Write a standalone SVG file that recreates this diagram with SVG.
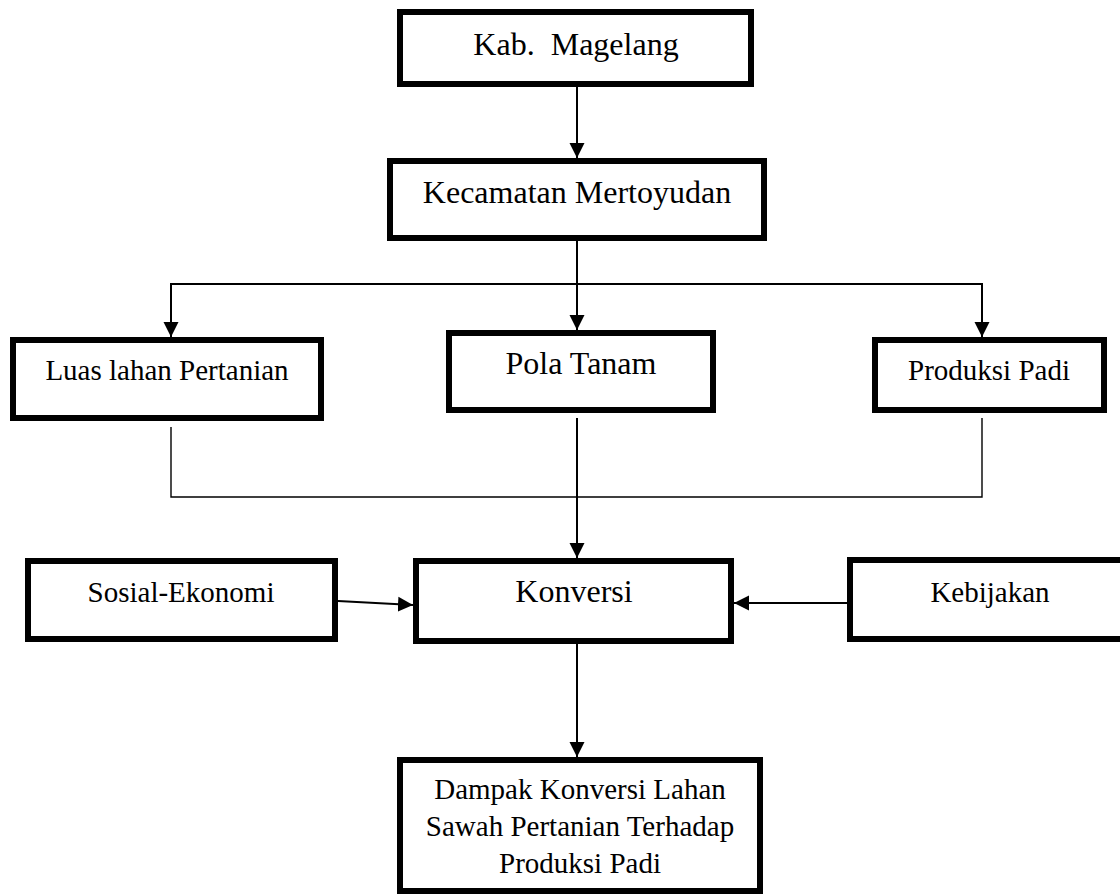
<svg xmlns="http://www.w3.org/2000/svg" width="1120" height="895" viewBox="0 0 1120 895">
<defs>
<style>
.box{fill:#fff;stroke:#000;stroke-width:6}
.t{font-family:"Liberation Serif","Times New Roman",serif;fill:#000;text-anchor:middle;white-space:pre}
.s29{font-size:29px}
.s32{font-size:32px}
.arr{stroke:#000;stroke-width:2;fill:none}
.thin{stroke:#000;stroke-width:1.4;fill:none}
</style>
<marker id="ah" markerUnits="userSpaceOnUse" markerWidth="16" markerHeight="16" refX="15" refY="8" orient="auto" viewBox="0 0 16 16">
<path d="M0,0.5 L15,8 L0,15.5 z" fill="#000"/>
</marker>
</defs>
<rect width="1120" height="895" fill="#fff"/>
<g id="connectors">
<line class="arr" x1="577" y1="87" x2="577" y2="158" marker-end="url(#ah)"/>
<line class="arr" x1="577" y1="241" x2="577" y2="330" marker-end="url(#ah)"/>
<polyline class="arr" points="171,337 171,284 982,284 982,337"/>
<line class="arr" x1="171" y1="284" x2="171" y2="337" marker-end="url(#ah)"/>
<line class="arr" x1="982" y1="284" x2="982" y2="337" marker-end="url(#ah)"/>
<polyline class="thin" points="171,427 171,497 982,497 982,418"/>
<line class="arr" x1="577" y1="418" x2="577" y2="558" marker-end="url(#ah)"/>
<line class="arr" x1="338" y1="601" x2="413" y2="605" marker-end="url(#ah)"/>
<line class="arr" x1="847" y1="603" x2="734" y2="603" marker-end="url(#ah)"/>
<line class="arr" x1="577" y1="644" x2="577" y2="757" marker-end="url(#ah)"/>
</g>
<g id="kab">
<rect class="box" x="400" y="12" width="351" height="72"/>
<text class="t s32" x="576" y="55" xml:space="preserve">Kab.  Magelang</text>
</g>
<g id="kecamatan">
<rect class="box" x="390" y="161" width="374" height="77"/>
<text class="t s32" x="577" y="203">Kecamatan Mertoyudan</text>
</g>
<g id="luas">
<rect class="box" x="13" y="340" width="308" height="78"/>
<text class="t s29" x="167" y="380">Luas lahan Pertanian</text>
</g>
<g id="pola">
<rect class="box" x="449" y="333" width="264" height="77"/>
<text class="t s32" x="581" y="374">Pola Tanam</text>
</g>
<g id="produksi">
<rect class="box" x="875" y="340" width="229" height="70"/>
<text class="t s29" x="989" y="380">Produksi Padi</text>
</g>
<g id="sosial">
<rect class="box" x="28" y="561" width="307" height="78"/>
<text class="t s29" x="181" y="602">Sosial-Ekonomi</text>
</g>
<g id="konversi">
<rect class="box" x="416" y="561" width="315" height="80"/>
<text class="t s32" x="574" y="602">Konversi</text>
</g>
<g id="kebijakan">
<rect class="box" x="850" y="560" width="282" height="79"/>
<text class="t s29" x="990" y="602">Kebijakan</text>
</g>
<g id="dampak">
<rect class="box" x="400" y="760" width="360" height="131"/>
<text class="t s29" x="580" y="799">Dampak Konversi Lahan</text>
<text class="t s29" x="580" y="836">Sawah Pertanian Terhadap</text>
<text class="t s29" x="580" y="873">Produksi Padi</text>
</g>
</svg>
